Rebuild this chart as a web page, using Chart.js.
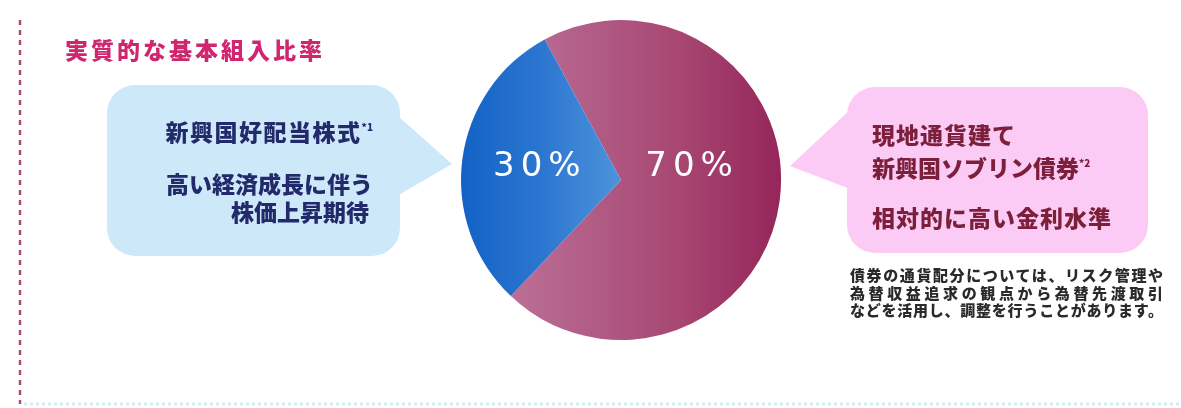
<!DOCTYPE html>
<html lang="ja">
<head>
<meta charset="utf-8">
<script src="https://cdn.jsdelivr.net/npm/chart.js@4/dist/chart.umd.min.js"></script>
<style>
  html, body { margin: 0; padding: 0; background: #fff; }
  .wrap { position: relative; width: 1181px; height: 408px; overflow: hidden; font-family: "Noto Sans CJK JP", sans-serif; }
  canvas { position: absolute; left: 0; top: 0; }
  .t { position: absolute; white-space: nowrap; font-weight: 900; line-height: 1; }
  .title { left: 65px; top: 38px; font-size: 23px; letter-spacing: 3px; color: #d0256f; }
  .lb { right: 808px; font-size: 23px; color: #222a6c; text-align: right; }
  .rb { left: 872px; font-size: 23px; color: #7c1f3a; }
  sup { font-size: 10px; vertical-align: 10px; letter-spacing: 0; }
  .note { position: absolute; left: 850px; top: 266px; width: 313px; font-size: 15px; line-height: 17.5px;
          font-weight: 900; color: #2a2a2a; }
  .note div { text-align: justify; text-align-last: justify; }
</style>
</head>
<body>
<div class="wrap">
  <canvas id="pie" width="1181" height="408"></canvas>
  <div class="t title">実質的な基本組入比率</div>
  <div class="t lb" style="top:120px;letter-spacing:1.5px">新興国好配当株式<sup>*1</sup></div>
  <div class="t lb" style="top:172px">高い経済成長に伴う</div>
  <div class="t lb" style="top:200px;right:812px">株価上昇期待</div>
  <div class="t rb" style="top:123px;letter-spacing:1px">現地通貨建て</div>
  <div class="t rb" style="top:156px">新興国ソブリン債券<sup>*2</sup></div>
  <div class="t rb" style="top:206px;letter-spacing:1px">相対的に高い金利水準</div>
  <div class="note">
    <div>債券の通貨配分については、リスク管理や</div>
    <div>為替収益追求の観点から為替先渡取引</div>
    <div>などを活用し、調整を行うことがあります。</div>
  </div>
</div>
<script>
// 実質的な基本組入比率
const categories = ['現地通貨建て新興国ソブリン債券', '新興国好配当株式'];
const shares = [70, 30];
const shareLabels = ['70%', '30%'];

// 吹き出しと枠線（背景）
const backdrop = {
  id: 'backdrop',
  beforeDraw(chart) {
    const ctx = chart.ctx;
    ctx.save();
    // 左の破線
    ctx.strokeStyle = '#a94d7b';
    ctx.lineWidth = 2.5;
    ctx.setLineDash([5, 5]);
    ctx.beginPath();
    ctx.moveTo(20, 20);
    ctx.lineTo(20, 404);
    ctx.stroke();
    // 下の点線
    ctx.strokeStyle = '#d3ecef';
    ctx.lineWidth = 3;
    ctx.setLineDash([3, 3]);
    ctx.beginPath();
    ctx.moveTo(24, 404);
    ctx.lineTo(1181, 404);
    ctx.stroke();
    ctx.setLineDash([]);

    // 左の吹き出し
    ctx.fillStyle = '#cde9f9';
    ctx.beginPath();
    ctx.roundRect(107, 85, 293, 171, 28);
    ctx.fill();
    ctx.beginPath();
    ctx.moveTo(380, 100);
    ctx.lineTo(452, 164);
    ctx.lineTo(390, 200);
    ctx.closePath();
    ctx.fill();

    // 右の吹き出し
    ctx.fillStyle = '#fccbf5';
    ctx.beginPath();
    ctx.roundRect(847, 87, 301, 166, 28);
    ctx.fill();
    ctx.beginPath();
    ctx.moveTo(865, 96);
    ctx.lineTo(790, 166);
    ctx.lineTo(858, 192);
    ctx.closePath();
    ctx.fill();
    ctx.restore();
  }
};

// 円グラフ上のパーセント表示
const pctLabels = {
  id: 'pctLabels',
  afterDatasetsDraw(chart) {
    const ctx = chart.ctx;
    const arcs = chart.getDatasetMeta(0).data;
    ctx.save();
    ctx.fillStyle = '#ffffff';
    ctx.font = '34px "DejaVu Sans", sans-serif';
    ctx.letterSpacing = '6px';
    ctx.textAlign = 'center';
    ctx.textBaseline = 'middle';
    arcs.forEach((arc, i) => {
      const p = arc.getProps(['x', 'y', 'startAngle', 'endAngle', 'outerRadius'], true);
      const mid = (p.startAngle + p.endAngle) / 2;
      const lx = p.x + Math.cos(mid) * p.outerRadius * 0.48;
      ctx.fillText(shareLabels[i], lx - 5, p.y - 13);
    });
    ctx.restore();
  }
};

function sliceFill(ctx) {
  const chart = ctx.chart;
  const area = chart.chartArea;
  if (!area) return '#999';
  const g = chart.ctx.createLinearGradient(area.left, 0, area.right, 0);
  if (ctx.dataIndex === 0) {
    g.addColorStop(0, '#c47a9f');
    g.addColorStop(0.3, '#b5658e');
    g.addColorStop(0.7, '#a64570');
    g.addColorStop(1, '#95265a');
  } else {
    g.addColorStop(0, '#1262c6');
    g.addColorStop(0.25, '#2c76d0');
    g.addColorStop(0.5, '#4d93db');
    g.addColorStop(1, '#5aa0e0');
  }
  return g;
}

new Chart(document.getElementById('pie'), {
  type: 'pie',
  data: {
    labels: categories,
    datasets: [{
      data: shares,
      backgroundColor: sliceFill,
      borderWidth: 0
    }]
  },
  options: {
    responsive: false,
    animation: false,
    rotation: -28.5,
    layout: { padding: { left: 461, right: 400, top: 20, bottom: 68 } },
    plugins: {
      legend: { display: false },
      tooltip: { enabled: false }
    }
  },
  plugins: [backdrop, pctLabels]
});
</script>
</body>
</html>
